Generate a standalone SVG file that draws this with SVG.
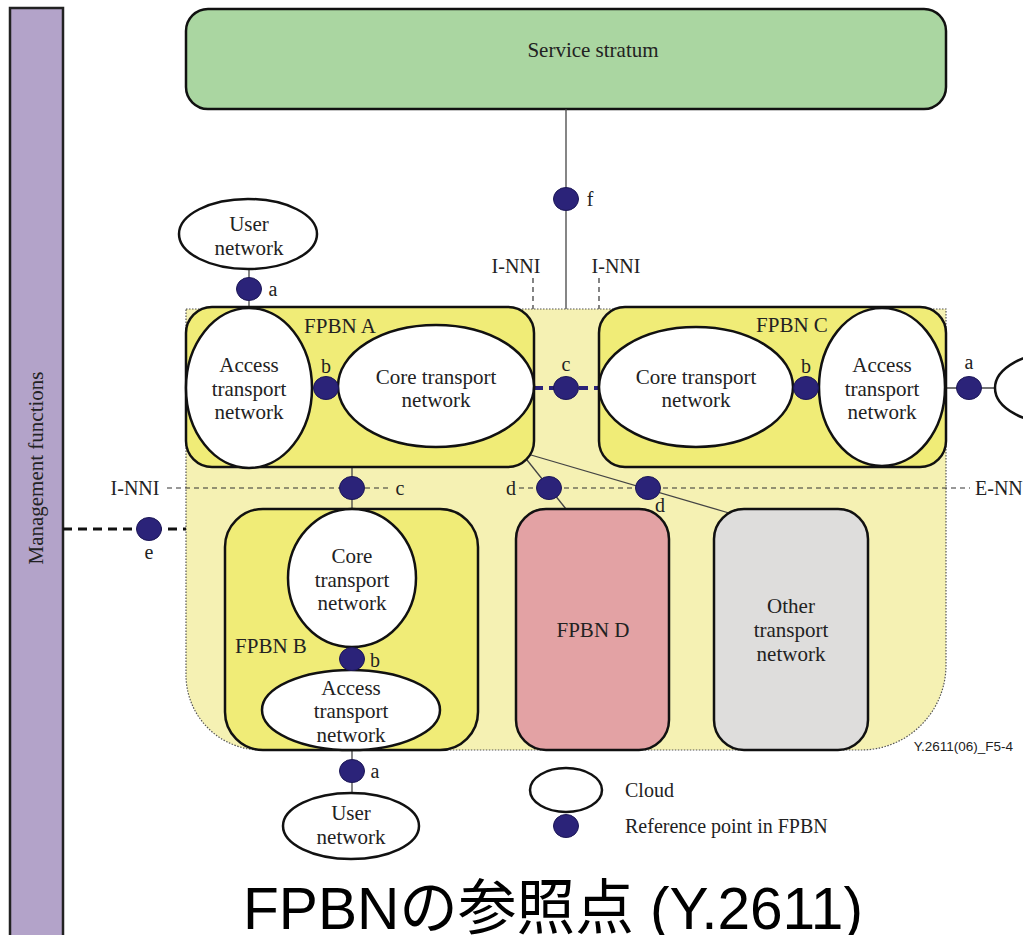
<svg xmlns="http://www.w3.org/2000/svg" width="1023" height="935" viewBox="0 0 1023 935">
<style>
.ell{fill:#fff;stroke:#111;stroke-width:2.5}
.rp{fill:#2b2379;stroke:#1c1756;stroke-width:1}
.box{stroke:#111;stroke-width:2.5}
.t{font-family:"Liberation Serif","Times New Roman",serif;font-size:21px;fill:#222;text-anchor:middle}
.lb{font-family:"Liberation Serif","Times New Roman",serif;font-size:20px;fill:#222;text-anchor:middle}
.ln{stroke:#444;stroke-width:1.3;fill:none}
.dsh{stroke:#333;stroke-width:1.2;stroke-dasharray:5,4;fill:none}
</style>
<rect width="1023" height="935" fill="#fff"/>
<g id="management">
<rect x="10" y="8" width="53" height="940" fill="#b3a3c9" stroke="#222" stroke-width="2.5"/>
<text class="t" transform="translate(43,468) rotate(-90)">Management functions</text>
</g>
<g id="service-stratum">
<rect x="186" y="9" width="760" height="100" rx="22" fill="#aad6a1" class="box"/>
<text class="t" x="593" y="57">Service stratum</text>
</g>
<g id="fpbn-region">
<path d="M186,309 H946 V665 A85,85 0 0 1 861,750 H261 A75,75 0 0 1 186,675 Z" fill="#f5f1b3" stroke="#555" stroke-width="1.2" stroke-dasharray="1.5,1.5"/>
</g>
<g id="connectors">
<line class="ln" x1="566" y1="109" x2="566" y2="309"/>
<line class="ln" x1="249" y1="268" x2="249" y2="308"/>
<line class="ln" x1="946" y1="388" x2="995" y2="388"/>
<line class="ln" x1="352" y1="467" x2="352" y2="509"/>
<line class="ln" x1="352" y1="750" x2="352" y2="792"/>
<line class="ln" x1="527" y1="460" x2="566" y2="509"/>
<line class="ln" x1="531" y1="455" x2="729" y2="513"/>
<line class="dsh" x1="533" y1="278" x2="533" y2="309"/>
<line class="dsh" x1="599" y1="278" x2="599" y2="309"/>
<line class="dsh" x1="167" y1="488" x2="390" y2="488"/>
<line class="dsh" x1="519" y1="488" x2="970" y2="488"/>
<line x1="534" y1="388" x2="599" y2="388" stroke="#2b2379" stroke-width="4" stroke-dasharray="9,6"/>
<line x1="63" y1="529" x2="186" y2="529" stroke="#111" stroke-width="3" stroke-dasharray="9,6"/>
</g>
<g id="fpbn-a">
<rect x="186" y="307" width="348" height="160" rx="26" fill="#f0ec77" class="box"/>
<text class="t" x="340" y="333">FPBN A</text>
<ellipse class="ell" cx="249" cy="388" rx="63" ry="80"/>
<text class="t" x="249" y="372">Access</text>
<text class="t" x="249" y="396">transport</text>
<text class="t" x="249" y="419">network</text>
<ellipse class="ell" cx="436" cy="386" rx="98" ry="61"/>
<text class="t" x="436" y="384">Core transport</text>
<text class="t" x="436" y="407">network</text>
</g>
<g id="fpbn-c">
<rect x="599" y="307" width="347" height="160" rx="26" fill="#f0ec77" class="box"/>
<text class="t" x="792" y="332">FPBN C</text>
<ellipse class="ell" cx="696" cy="387" rx="97" ry="60"/>
<text class="t" x="696" y="384">Core transport</text>
<text class="t" x="696" y="407">network</text>
<ellipse class="ell" cx="882" cy="387" rx="63" ry="79"/>
<text class="t" x="882" y="372">Access</text>
<text class="t" x="882" y="396">transport</text>
<text class="t" x="882" y="419">network</text>
</g>
<g id="fpbn-b">
<rect x="225" y="509" width="253" height="241" rx="38" fill="#f0ec77" class="box"/>
<text class="t" x="271" y="653">FPBN B</text>
<ellipse class="ell" cx="352" cy="578" rx="64" ry="69"/>
<text class="t" x="352" y="563">Core</text>
<text class="t" x="352" y="587">transport</text>
<text class="t" x="352" y="610">network</text>
<ellipse class="ell" cx="351" cy="710" rx="89" ry="40"/>
<text class="t" x="351" y="695">Access</text>
<text class="t" x="351" y="718">transport</text>
<text class="t" x="351" y="742">network</text>
</g>
<g id="fpbn-d">
<rect x="516" y="509" width="153" height="241" rx="30" fill="#e3a2a4" class="box"/>
<text class="t" x="593" y="637">FPBN D</text>
</g>
<g id="other-transport">
<rect x="714" y="509" width="154" height="241" rx="30" fill="#dedddc" class="box"/>
<text class="t" x="791" y="613">Other</text>
<text class="t" x="791" y="637">transport</text>
<text class="t" x="791" y="661">network</text>
</g>
<g id="user-top">
<ellipse class="ell" cx="248" cy="234" rx="69" ry="35"/>
<text class="t" x="249" y="231">User</text>
<text class="t" x="249" y="255">network</text>
</g>
<g id="user-bottom">
<ellipse class="ell" cx="351" cy="826" rx="68" ry="33"/>
<text class="t" x="351" y="820">User</text>
<text class="t" x="351" y="844">network</text>
</g>
<g id="user-right">
<ellipse class="ell" cx="1060" cy="388" rx="65" ry="36"/>
</g>
<g id="ref-points">
<ellipse class="rp" cx="566" cy="199" rx="12.5" ry="11.5"/>
<text class="lb" x="590" y="206">f</text>
<ellipse class="rp" cx="249" cy="289" rx="12.5" ry="11.5"/>
<text class="lb" x="273" y="296">a</text>
<ellipse class="rp" cx="326" cy="388" rx="12.5" ry="11.5"/>
<text class="lb" x="326" y="373">b</text>
<ellipse class="rp" cx="566" cy="388" rx="12.5" ry="11.5"/>
<text class="lb" x="566" y="371">c</text>
<ellipse class="rp" cx="806" cy="388" rx="12.5" ry="11.5"/>
<text class="lb" x="806" y="373">b</text>
<ellipse class="rp" cx="969" cy="388" rx="12.5" ry="11.5"/>
<text class="lb" x="969" y="369">a</text>
<ellipse class="rp" cx="352" cy="488" rx="12.5" ry="11.5"/>
<text class="lb" x="400" y="495">c</text>
<ellipse class="rp" cx="549" cy="488" rx="12.5" ry="11.5"/>
<text class="lb" x="511" y="495">d</text>
<ellipse class="rp" cx="648" cy="488" rx="12.5" ry="11.5"/>
<text class="lb" x="660" y="512">d</text>
<ellipse class="rp" cx="149" cy="529" rx="12.5" ry="11.5"/>
<text class="lb" x="149" y="559">e</text>
<ellipse class="rp" cx="352" cy="659" rx="12.5" ry="11.5"/>
<text class="lb" x="375" y="667">b</text>
<ellipse class="rp" cx="352" cy="771" rx="12.5" ry="11.5"/>
<text class="lb" x="375" y="778">a</text>
</g>
<g id="interface-labels">
<text class="lb" x="516" y="273">I-NNI</text>
<text class="lb" x="616" y="273">I-NNI</text>
<text class="lb" x="135" y="495">I-NNI</text>
<text class="lb" x="975" y="495" style="text-anchor:start">E-NNI</text>
<text x="1013" y="751" font-family="Liberation Sans, Arial, sans-serif" font-size="13.5" fill="#222" text-anchor="end">Y.2611(06)_F5-4</text>
</g>
<g id="legend">
<ellipse class="ell" cx="566" cy="790" rx="36" ry="22"/>
<text class="lb" x="625" y="797" style="text-anchor:start">Cloud</text>
<ellipse class="rp" cx="566" cy="826" rx="12.5" ry="11.5"/>
<text class="lb" x="625" y="833" style="text-anchor:start">Reference point in FPBN</text>
</g>
<g id="title">
<text x="243" y="929" font-family="Liberation Sans, Arial, 'Noto Sans CJK JP', sans-serif" font-size="60" fill="#000" textLength="620" lengthAdjust="spacingAndGlyphs">FPBNの参照点 (Y.2611)</text>
</g>
</svg>
